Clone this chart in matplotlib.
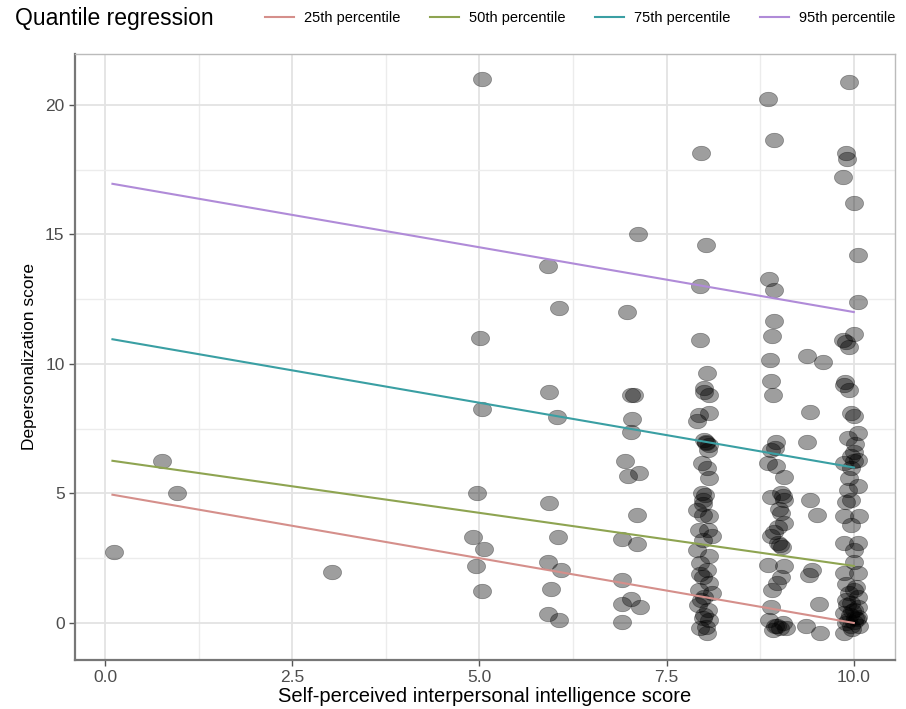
import matplotlib
matplotlib.use("Agg")
import matplotlib.pyplot as plt
from matplotlib.ticker import MultipleLocator
from matplotlib.path import Path
import numpy as np

plt.rcParams['font.family'] = ['Liberation Sans', 'DejaVu Sans']

x_low = [0.12, 0.76, 0.96, 3.03]
y_low = [2.75, 6.25, 5.0, 1.97]
x_c5 = [5.03, 5.01, 5.04, 4.97, 4.91, 5.06, 4.96, 5.04]
y_c5 = [20.99, 11.01, 8.25, 5.0, 3.33, 2.85, 2.19, 1.23]
x_c6 = [5.91, 6.06, 5.93, 6.03, 5.93, 6.05, 5.92, 6.09, 5.96, 5.92, 6.06]
y_c6 = [13.79, 12.14, 8.91, 7.95, 4.63, 3.30, 2.34, 2.04, 1.30, 0.34, 0.12]
x_c7 = [7.12, 6.97, 7.03, 7.06, 7.04, 7.02, 6.95, 6.98, 7.13, 7.11, 6.91, 7.11, 6.91, 7.03, 6.90, 7.14, 6.90]
y_c7 = [15.0, 12.02, 8.81, 8.78, 7.88, 7.36, 6.25, 5.69, 5.77, 4.18, 3.23, 3.03, 1.67, 0.93, 0.75, 0.60, 0.05]
x_c8 = [7.96, 8.03, 7.95, 7.94, 8.04, 8.0, 8.0, 8.07, 7.93, 8.07, 7.91, 8.0, 8.07, 8.05, 8.02,
        7.97, 8.04, 8.07, 7.97, 8.01, 7.99, 7.91, 7.99, 8.07, 7.93, 8.05, 8.11, 7.99, 7.91, 7.95,
        8.04, 7.99, 8.07, 7.93, 8.0, 8.1, 7.92, 8.05, 7.99, 8.07, 7.95, 8.04, 8.02, 8.0, 7.96,
        8.03, 7.98, 8.06, 7.94]
y_c8 = [18.14, 14.59, 13.02, 10.94, 9.65, 9.07, 8.9, 8.8, 8.04, 8.1, 7.78, 7.07, 6.88, 6.69, 7.0,
        6.17, 5.98, 5.59, 5.01, 4.95, 4.75, 4.37, 4.17, 4.14, 3.59, 3.59, 3.34, 3.21, 2.82, 2.31,
        2.05, 1.79, 1.53, 1.27, 1.02, 1.14, 0.69, 0.5, 0.18, 0.11, -0.21, -0.40, -0.14, 0.3, 0.9,
        6.95, 4.6, 2.6, 1.9]
x_c9 = [8.86, 8.93, 8.87, 8.93, 8.94, 8.91, 8.88, 8.90, 8.92, 8.96, 8.89, 8.95, 8.85, 8.96, 9.07,
        8.89, 9.03, 9.07, 9.05, 9.03, 8.99, 9.07, 8.89, 8.99, 9.04, 9.02, 8.85, 9.07, 9.03, 8.91,
        8.98, 8.89, 8.87, 8.98, 9.09, 8.92, 8.95, 9.02, 9.05, 9.0, 8.94]
y_c9 = [20.22, 18.65, 13.27, 12.85, 11.64, 11.09, 10.15, 9.33, 8.81, 7.0, 6.69, 6.75, 6.17, 6.04, 5.63,
        4.88, 5.01, 4.75, 4.9, 4.24, 3.72, 3.85, 3.34, 3.08, 2.95, 3.0, 2.24, 2.18, 1.79, 1.27,
        1.53, 0.63, 0.11, -0.12, -0.2, -0.26, -0.1, -0.18, 0.0, 4.4, 3.5]
x_c95 = [9.38, 9.59, 9.42, 9.38, 9.42, 9.51, 9.44, 9.40, 9.53, 9.36, 9.55]
y_c95 = [10.32, 10.06, 8.14, 6.97, 4.75, 4.17, 2.05, 1.86, 0.73, -0.12, -0.4]
x_c10 = [9.94, 9.89, 9.91, 9.86, 10.0, 10.05, 10.05, 10.0, 9.86, 9.9, 9.93, 9.88, 9.87, 9.94, 9.96,
         10.0, 10.05, 9.92, 9.96, 10.0, 9.87, 10.05, 9.96, 10.0, 9.94, 10.05, 9.92, 9.96, 9.89, 9.87,
         10.07, 9.96, 9.87, 10.05, 10.0, 10.0, 9.87, 10.05, 9.9, 10.0, 10.05, 9.96, 9.9, 9.87, 10.05,
         9.96, 9.87, 10.07, 9.92, 10.0, 10.02, 9.95, 10.05, 9.9, 10.0, 9.98, 10.03, 9.93,
         9.97, 10.04, 9.91, 10.01]
y_c10 = [20.86, 18.14, 17.91, 17.22, 16.19, 14.2, 12.37, 11.15, 10.92, 10.86, 10.64, 9.29, 9.2, 9.01, 8.1,
         7.98, 7.33, 7.14, 6.43, 6.24, 6.17, 6.3, 5.98, 6.6, 5.59, 5.27, 5.14, 4.75, 4.65, 4.11,
         4.11, 3.79, 3.08, 3.08, 2.82, 2.37, 1.92, 1.92, 1.5, 1.27, 1.02, 0.76, 0.9, 0.37, 0.24,
         -0.12, -0.37, -0.12, 0.11, 0.5, 0.2, 0.3, 0.6, 0.0, 0.05, -0.25, 1.4, 1.15,
         0.45, 0.15, 0.7, 6.9]

score_x = np.array(x_low + x_c5 + x_c6 + x_c7 + x_c8 + x_c9 + x_c95 + x_c10)
score_y = np.array(y_low + y_c5 + y_c6 + y_c7 + y_c8 + y_c9 + y_c95 + y_c10)

# quantile regression fits
quantile_labels = ["25th percentile", "50th percentile", "75th percentile", "95th percentile"]
intercepts = [5.0, 6.3, 11.0, 17.0]
slopes = [-0.5, -0.41, -0.5, -0.5]
line_colors = ["#d58f8b", "#8ea451", "#3a9fa3", "#b08bd8"]
x_range = [0.1, 10.0]

# slightly wide elliptical marker (reference is horizontally stretched)
theta = np.linspace(0, 2 * np.pi, 60)
ellipse = Path(np.column_stack([0.5 * np.cos(theta), 0.4 * np.sin(theta)]), closed=True)

# ---- figure ----
fig = plt.figure(figsize=(9.06, 7.09), dpi=100)
ax = fig.add_axes([75/906, 1 - 660/709, (895 - 75)/906, (660 - 54)/709])

ax.scatter(score_x, score_y, s=170, marker=ellipse, color="black", alpha=0.38,
           edgecolors="black", linewidths=0.5, zorder=3)

xr = np.array(x_range)
handles = []
for lab, b0, b1, c in zip(quantile_labels, intercepts, slopes, line_colors):
    h, = ax.plot(xr, b0 + b1 * xr, color=c, lw=1.5, label=lab, zorder=4)
    handles.append(h)

ax.set_xlim(-0.4, 10.55)
ax.set_ylim(-1.43, 21.96)
ax.xaxis.set_minor_locator(MultipleLocator(1.25))
ax.yaxis.set_major_locator(MultipleLocator(5))
ax.yaxis.set_minor_locator(MultipleLocator(2.5))
ax.set_xticks([0, 2.5, 5, 7.5, 10])
ax.set_xticklabels(["0.0", "2.5", "5.0", "7.5", "10.0"])
ax.grid(True, which="major", color="#e3e3e3", lw=1.3, zorder=0)
ax.grid(True, which="minor", color="#ececec", lw=1.0, zorder=0)
ax.set_axisbelow(True)
ax.tick_params(which="minor", length=0)
ax.tick_params(which="major", length=4, color="#555555", labelsize=12.5, labelcolor="#4d4d4d", width=1)
for side in ["top", "right"]:
    ax.spines[side].set_color("#bbbbbb")
    ax.spines[side].set_linewidth(1.0)
for side in ["left", "bottom"]:
    ax.spines[side].set_color("#777777")
    ax.spines[side].set_linewidth(1.6)

ax.set_xlabel("Self-perceived interpersonal intelligence score", fontsize=14.5, labelpad=1)
ax.set_ylabel("Depersonalization score", fontsize=12.5, labelpad=6)

fig.text(15/906, 1 - 18/709, "Quantile regression", fontsize=16.5, va="center", ha="left")
fig.legend(handles=handles, labels=quantile_labels, loc="center left",
           bbox_to_anchor=(262/906, 1 - 18/709), ncol=4, frameon=False,
           fontsize=10.5, handlelength=2.0, columnspacing=2.0, handletextpad=0.7,
           borderaxespad=0, borderpad=0.2)

fig.savefig("out.png", dpi=100)
